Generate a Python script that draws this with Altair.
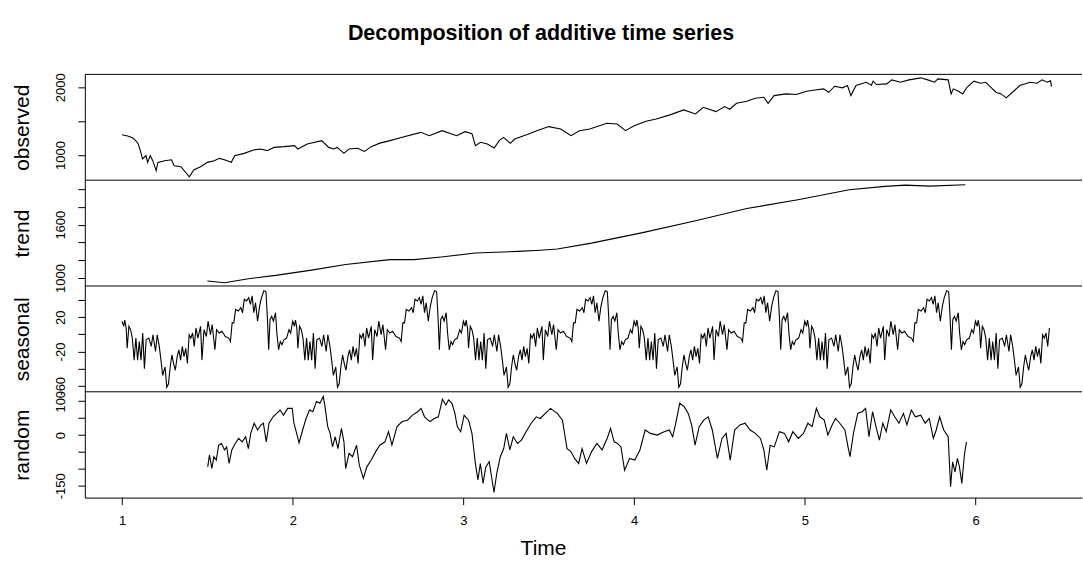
import altair as alt
import pandas as pd

# ---------------- data ----------------
obs_t = [1.000, 1.033, 1.063, 1.080, 1.095, 1.110, 1.120, 1.140, 1.150, 1.165,
         1.180, 1.200, 1.210, 1.250, 1.290, 1.305, 1.345, 1.394, 1.420, 1.460,
         1.500, 1.540, 1.570, 1.600, 1.640, 1.660, 1.715, 1.770, 1.810, 1.850,
         1.890, 1.950, 2.010, 2.030, 2.085, 2.170, 2.210, 2.240, 2.260, 2.300,
         2.330, 2.380, 2.420, 2.460, 2.510, 2.570, 2.630, 2.750, 2.800, 2.875,
         2.960, 3.010, 3.050, 3.070, 3.100, 3.140, 3.180, 3.210, 3.235, 3.275,
         3.300, 3.370, 3.430, 3.500, 3.570, 3.630, 3.680, 3.740, 3.840, 3.900,
         3.950, 4.000, 4.070, 4.130, 4.210, 4.290, 4.360, 4.405, 4.480, 4.530,
         4.560, 4.600, 4.660, 4.710, 4.760, 4.785, 4.820, 4.890, 4.950, 5.010,
         5.060, 5.110, 5.140, 5.175, 5.220, 5.250, 5.270, 5.300, 5.360, 5.390,
         5.400, 5.420, 5.480, 5.510, 5.560, 5.610, 5.680, 5.720, 5.760, 5.780,
         5.840, 5.857, 5.870, 5.900, 5.925, 5.950, 5.990, 6.030, 6.060, 6.080,
         6.120, 6.150, 6.180, 6.210, 6.260, 6.320, 6.360, 6.390, 6.420, 6.440,
         6.445]
obs_v = [1300, 1281, 1251, 1211, 1163, 1038, 941, 990, 891, 990,
         916, 768, 891, 916, 930, 842, 827, 679, 778, 827,
         891, 916, 950, 930, 891, 990, 1024, 1074, 1089, 1064,
         1112, 1123, 1138, 1089, 1163, 1212, 1112, 1089, 1112, 1024,
         1089, 1100, 1053, 1123, 1175, 1212, 1255, 1334, 1285, 1359,
         1285, 1344, 1314, 1138, 1187, 1163, 1103, 1212, 1260, 1172,
         1236, 1300, 1359, 1419, 1384, 1285, 1359, 1384, 1468, 1458,
         1359, 1433, 1497, 1532, 1592, 1666, 1606, 1704, 1640, 1715,
         1675, 1763, 1793, 1837, 1852, 1763, 1877, 1902, 1892, 1941,
         1960, 1976, 1926, 2015, 1991, 2025, 1877, 2025, 2074, 2030,
         2089, 2040, 2050, 2109, 2074, 2109, 2139, 2109, 2074, 2124,
         2109, 1902, 1976, 1941, 1902, 2000, 2089, 2060, 2074, 2025,
         1926, 1902, 1843, 1911, 2025, 2074, 2060, 2109, 2074, 2094,
         2010]

trend_t = [1.50, 1.60, 1.74, 1.90, 2.11, 2.31, 2.57, 2.71, 2.87, 3.07,
           3.32, 3.45, 3.55, 3.75, 4.05, 4.36, 4.66, 4.96, 5.26, 5.47,
           5.59, 5.73, 5.94]
trend_v = [967, 948, 993, 1030, 1089, 1152, 1207, 1207, 1237, 1281,
           1300, 1313, 1326, 1393, 1511, 1644, 1781, 1881, 1993, 2030,
           2044, 2033, 2048]

# one yearly cycle of the seasonal component (position within the year, value)
seas_phase = [0.000, 0.010, 0.016, 0.024, 0.030, 0.040, 0.050, 0.060, 0.071, 0.081,
              0.091, 0.101, 0.111, 0.121, 0.131, 0.141, 0.157, 0.171, 0.181, 0.196,
              0.206, 0.218, 0.228, 0.238, 0.252, 0.262, 0.272, 0.282, 0.292, 0.302,
              0.312, 0.323, 0.333, 0.343, 0.353, 0.363, 0.373, 0.383, 0.393, 0.403,
              0.413, 0.423, 0.433, 0.444, 0.460, 0.468, 0.480, 0.494, 0.504, 0.518,
              0.528, 0.544, 0.554, 0.569, 0.585, 0.605, 0.625, 0.635, 0.645, 0.655,
              0.665, 0.681, 0.696, 0.706, 0.716, 0.730, 0.742, 0.752, 0.762, 0.772,
              0.782, 0.794, 0.806, 0.817, 0.831, 0.843, 0.851, 0.859, 0.867, 0.877,
              0.887, 0.899, 0.907, 0.917, 0.927, 0.937, 0.948, 0.964, 0.978, 0.988,
              0.998]
seas_cycle = [15.4, 9.5, 16.6, 7.5, -16.2, 9.5, 5.5, -4.3, -30, -4.3,
              -30, -8.3, -30, 1.6, -40, -6.3, -4.3, -14, -0.4, -20,
              -0.4, -14, -30, -47.8, -38, -61.6, -57.7, -38, -24, -34,
              -41.9, -26, -18, -30, -14, -26, -16.2, -34, -0.4, -4.3,
              1.6, -14, 7.5, -4.3, 9.5, -30, 5.5, -2.4, 15.4, -0.4,
              11.5, -18, 5.5, 1.6, 3.6, -2.4, -4.3, -8.3, 13.4, 13.4,
              29.2, 27.3, 31.2, 25.3, 41, 39, 43, 35, 45, 25.3,
              37, 15.4, 33, 43, 51, 50, 21, -18, 17.4, 21,
              15.4, 25.3, 1.6, -18, -8.3, -12, -6.3, -4.3, 5.5, 1.6,
              13.4]
seas_years = [1, 2, 3, 4, 5, 6]
seas_end = 6.44

rand_t = [1.502, 1.512, 1.526, 1.538, 1.552, 1.566, 1.583, 1.600, 1.613, 1.627,
          1.643, 1.663, 1.683, 1.704, 1.724, 1.740, 1.754, 1.774, 1.794, 1.814,
          1.828, 1.845, 1.861, 1.885, 1.906, 1.926, 1.946, 1.970, 1.997, 2.007,
          2.023, 2.037, 2.058, 2.078, 2.098, 2.118, 2.139, 2.159, 2.179, 2.189,
          2.205, 2.219, 2.233, 2.249, 2.265, 2.285, 2.300, 2.310, 2.330, 2.350,
          2.374, 2.390, 2.414, 2.434, 2.460, 2.486, 2.510, 2.540, 2.561, 2.581,
          2.611, 2.641, 2.672, 2.702, 2.732, 2.752, 2.772, 2.803, 2.829, 2.853,
          2.877, 2.897, 2.913, 2.933, 2.950, 2.964, 2.984, 3.004, 3.030, 3.050,
          3.070, 3.085, 3.099, 3.115, 3.131, 3.151, 3.165, 3.179, 3.195, 3.216,
          3.236, 3.252, 3.272, 3.292, 3.317, 3.340, 3.367, 3.397, 3.427, 3.450,
          3.480, 3.510, 3.550, 3.580, 3.607, 3.630, 3.651, 3.675, 3.695, 3.721,
          3.751, 3.782, 3.812, 3.842, 3.862, 3.883, 3.903, 3.923, 3.944, 3.974,
          4.004, 4.034, 4.065, 4.095, 4.135, 4.176, 4.206, 4.226, 4.246, 4.267,
          4.293, 4.317, 4.337, 4.357, 4.381, 4.408, 4.434, 4.458, 4.488, 4.515,
          4.539, 4.563, 4.589, 4.620, 4.650, 4.680, 4.710, 4.740, 4.760, 4.777,
          4.797, 4.821, 4.851, 4.881, 4.905, 4.930, 4.962, 4.992, 5.018, 5.043,
          5.068, 5.088, 5.114, 5.135, 5.160, 5.180, 5.205, 5.235, 5.255, 5.265,
          5.285, 5.310, 5.336, 5.356, 5.376, 5.397, 5.417, 5.437, 5.457, 5.477,
          5.503, 5.527, 5.551, 5.578, 5.598, 5.624, 5.648, 5.679, 5.705, 5.729,
          5.753, 5.770, 5.790, 5.814, 5.840, 5.854, 5.866, 5.880, 5.894, 5.906,
          5.920, 5.935, 5.947]
rand_v = [-94, -59, -99, -64, -74, -30, -25, -44, -35, -84,
          -44, -25, -10, -20, -5, -40, 5, 35, 15, 30,
          35, -20, 35, 54, 64, 74, 59, 79, 79, 35,
          5, -23, 15, 49, 74, 69, 99, 94, 114, 84,
          25, 5, -35, -5, -40, 20, -20, -99, -54, -64,
          -30, -89, -128, -94, -74, -49, -30, -20, 10, -30,
          25, 40, 44, 59, 69, 79, 54, 40, 49, 54,
          106, 89, 104, 94, 64, 25, 10, 59, 44, 5,
          -84, -133, -84, -143, -94, -79, -124, -170, -114, -64,
          -40, 5, -44, -5, -25, -15, 10, 35, 54, 49,
          64, 79, 64, 44, -40, -49, -69, -84, -40, -84,
          -49, -25, -44, -10, 20, -20, -25, -35, -104, -69,
          -74, -44, 15, 5, 0, 10, 15, -5, 40, 94,
          84, 64, 30, -30, 25, 44, 54, 15, -69, -10,
          5, -74, 15, 30, 35, 15, 5, -10, -44, -104,
          -30, -35, 10, 5, -20, 10, -10, 5, 35, 25,
          79, 54, 44, 0, 30, 49, 35, 15, -40, -64,
          5, 64, 69, 79, -5, 69, 25, -15, 35, 10,
          74, 54, 35, 64, 30, 74, 54, 59, 35, 49,
          -10, 15, 54, 15, -5, -153, -79, -109, -69, -94,
          -143, -59, -20]

x_ticks = [1, 2, 3, 4, 5, 6]
panel_names = ["observed", "trend", "seasonal", "random"]

# ---------------- layout ----------------
FONT = "Liberation Sans"
W = 999
H = 106
X_DOMAIN = [0.782, 6.624]

seas_t, seas_v = [], []
for yr in seas_years:
    for p, v in zip(seas_phase, seas_cycle):
        if yr + p <= seas_end:
            seas_t.append(round(yr + p, 4))
            seas_v.append(v)


def y_axis(name, ticks, shown):
    arr = "[" + ",".join(str(s) for s in shown) + "]"
    return alt.Axis(
        values=ticks, title=name, grid=False,
        labelExpr=f"indexof({arr}, datum.value) >= 0 ? '' + datum.value : ''",
        labelAngle=270, labelAlign="center", labelBaseline="alphabetic",
        labelPadding=13.5, tickSize=7, labelOverlap=False, labelFlush=False,
        labelBound=False, labelFont=FONT, labelFontSize=13, labelColor="black",
        tickColor="black", tickWidth=1, domainColor="black", domainWidth=1,
        titleFont=FONT, titleFontSize=21, titleFontWeight="normal",
        titleColor="black", titleAngle=270, titleAlign="center",
        titleBaseline="alphabetic", titleX=-56, titleY=H / 2,
    )


bottom_axis = alt.Axis(
    values=x_ticks, format="d", title="Time", grid=False,
    tickSize=7, labelPadding=19.5, labelBaseline="alphabetic",
    labelFlush=False, labelOverlap=False, labelFont=FONT, labelFontSize=13,
    labelColor="black", tickColor="black", domainColor="black", domainWidth=1,
    titleFont=FONT, titleFontSize=21, titleFontWeight="normal",
    titleColor="black", titleX=459, titleY=57.5, titleBaseline="alphabetic",
    titleAlign="center",
)

one = pd.DataFrame({"z": [0]})


def panel(name, t, v, domain, ticks, shown, last=False, first=False):
    df = pd.DataFrame({"t": t, "v": v})
    line = alt.Chart(df).mark_line(color="black", strokeWidth=1.1, clip=True).encode(
        x=alt.X("t:Q", scale=alt.Scale(domain=X_DOMAIN, nice=False, zero=False),
                axis=bottom_axis if last else None),
        y=alt.Y("v:Q", scale=alt.Scale(domain=domain, nice=False, zero=False),
                axis=y_axis(name, ticks, shown)),
    )
    top = alt.Chart(one).mark_rule(color="black", strokeWidth=1).encode(
        x=alt.value(0), x2=alt.value(W), y=alt.value(0))
    layers = [line, top]
    if first:
        ttl = alt.Chart(one).mark_text(
            text="Decomposition of additive time series", font=FONT,
            fontSize=21.5, fontWeight="bold", color="black",
            align="center", baseline="alphabetic",
        ).encode(x=alt.value(457), y=alt.value(-34.5))
        layers.append(ttl)
    return alt.layer(*layers).properties(width=W, height=H)


p1 = panel(panel_names[0], obs_t, obs_v, [628, 2190], [1000, 1500, 2000],
           [1000, 2000], first=True)
p2 = panel(panel_names[1], trend_t, trend_v, [911, 2100],
           [1000, 1200, 1400, 1600, 1800, 2000], [1000, 1600])
p3 = panel(panel_names[2], seas_t, seas_v, [-67, 56.5],
           [-60, -40, -20, 0, 20, 40], [-60, -20, 20])
p4 = panel(panel_names[3], rand_t, rand_v, [-185, 128],
           [-150, -100, -50, 0, 50, 100], [-150, 0, 100], last=True)

chart = alt.vconcat(p1, p2, p3, p4, spacing=0, bounds="flush").properties(
    padding={"left": 12, "right": 0, "top": 22, "bottom": 0},
    background="white",
).configure_view(stroke=None)

chart.save("out.html", embed_options={"renderer": "svg", "actions": False})
